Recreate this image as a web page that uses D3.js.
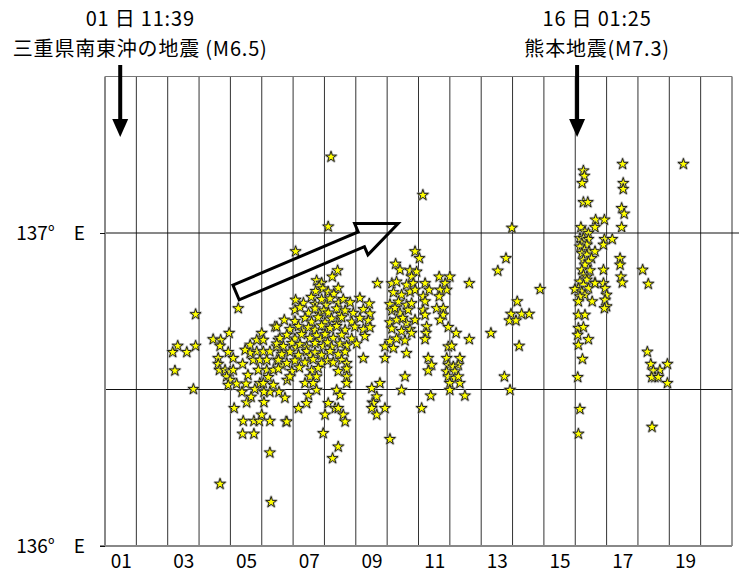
<!DOCTYPE html>
<html>
<head>
<meta charset="utf-8">
<script src="https://cdn.jsdelivr.net/npm/d3@7"></script>
<style>
  body { margin: 0; background: #fff; }
  svg { display: block; }
  text { font-family: "Noto Sans CJK JP", "Noto Sans", sans-serif; fill: #000; }
</style>
</head>
<body>
<svg id="chart" width="739" height="574"></svg>
<script>
// Epicentre records: [day of month (fractional), longitude °E]
const swarmEarly = [
  [3.89,136.740],[3.32,136.639],[3.16,136.619],[3.61,136.619],[3.89,136.639],[3.23,136.560],[3.82,136.501],
  [5.25,136.759],[4.96,136.680],[4.45,136.660],[4.69,136.658],[4.67,136.639],[4.93,136.619],[4.61,136.600],
  [4.61,136.581],[4.65,136.562],[5.09,136.600],[5.39,136.581],[4.83,136.562],[4.99,136.557],[5.09,136.562],
  [4.88,136.541],[4.99,136.530],[4.93,136.514],[5.20,136.518],[5.50,136.518],[5.78,136.501],[5.94,136.520],
  [5.12,136.440],[5.52,136.458],[6.07,136.459],[5.41,136.399],[5.75,136.399],[5.92,136.399],[6.26,136.399],
  [6.00,136.419],[5.39,136.358],[5.75,136.358],[6.26,136.298],[4.67,136.198],[6.30,136.140],[6.77,136.397],
  [6.00,136.680],[6.42,136.701],[5.63,136.642],[5.84,136.658],[6.05,136.658],[5.84,136.621],[6.05,136.621],
  [6.26,136.621],[6.48,136.637],[5.73,136.594],[5.94,136.594],[6.16,136.594],[6.48,136.594],[5.89,136.562],
  [6.16,136.562],[6.37,136.562],[6.21,136.539],[6.37,136.514],[6.05,136.520],[5.63,136.616],[6.53,136.658],
  [5.47,136.626],[5.56,136.546],[6.65,136.620],[6.65,136.578],[6.81,136.530],[6.55,136.492],[6.74,136.473],
  [5.37,136.492],[5.66,136.476],[6.26,136.492],[6.07,136.492]
];
const swarmMid = [
  [7.08,136.941],[8.42,136.880],[8.25,136.860],[9.69,136.839],[6.72,136.722],[8.12,137.020],[8.21,137.243],
  [7.75,136.848],[7.91,136.840],[7.83,136.830],
  [7.72,136.814],[7.95,136.822],[8.12,136.812],[8.44,136.824],[8.30,136.805],
  [7.08,136.786],[7.33,136.776],[7.58,136.795],[7.70,136.772],[7.91,136.788],[8.05,136.770],[8.18,136.790],
  [8.44,136.776],[8.60,136.788],[8.82,136.778],[9.13,136.792],[9.43,136.774],
  [7.06,136.754],[7.22,136.762],[7.49,136.744],[7.70,136.758],[7.85,136.740],[7.98,136.752],[8.12,136.745],
  [8.39,136.758],[8.52,136.740],[8.66,136.752],[8.92,136.744],[9.24,136.756],[9.45,136.742],
  [7.06,136.718],[7.38,136.728],[7.59,136.716],[7.80,136.730],[8.02,136.714],[8.23,136.726],[8.40,136.712],
  [8.55,136.730],[8.87,136.716],[9.13,136.728],[9.40,136.720],
  [6.48,136.700],[6.90,136.692],[7.17,136.702],[7.30,136.688],[7.49,136.698],[7.70,136.690],[7.91,136.704],
  [8.05,136.686],[8.18,136.696],[8.39,136.702],[8.66,136.690],[8.97,136.700],[9.24,136.692],[9.45,136.698],
  [6.58,136.664],[6.80,136.674],[7.06,136.662],[7.27,136.676],[7.54,136.664],[7.75,136.672],[7.88,136.660],
  [8.02,136.676],[8.28,136.664],[8.55,136.674],[8.87,136.662],[9.29,136.670],
  [6.48,136.646],[6.69,136.638],[6.96,136.648],[7.10,136.634],[7.22,136.644],[7.43,136.636],[7.70,136.648],
  [7.96,136.638],[8.10,136.650],[8.23,136.636],[8.50,136.646],[8.71,136.640],[9.03,136.646],
  [6.64,136.612],[6.90,136.620],[7.17,136.610],[7.43,136.622],[7.56,136.608],[7.70,136.618],[7.91,136.610],
  [8.18,136.622],[8.44,136.612],[8.66,136.620],
  [6.53,136.594],[6.80,136.584],[7.06,136.592],[7.38,136.586],[7.64,136.596],[7.91,136.584],[8.10,136.592],
  [8.28,136.586],[8.55,136.594],[8.71,136.584],[9.24,136.600],[9.93,136.600],
  [6.53,136.566],[6.96,136.558],[7.20,136.570],[7.59,136.560],[7.80,136.568],[8.44,136.558],[8.71,136.566],
  [6.90,136.541],[7.54,136.541],[7.75,136.541],[8.71,136.541],
  [7.38,136.520],[7.64,136.520],[8.71,136.520],
  [7.75,136.498],[8.39,136.498],[7.49,136.482],[8.50,136.482],[7.43,136.456],[8.12,136.456],
  [7.17,136.440],[8.34,136.440],[8.44,136.440],[8.02,136.419],[8.60,136.419],[6.80,136.397],[8.66,136.397],
  [7.96,136.360],[8.44,136.317],[8.26,136.280],[9.53,136.458],[10.09,136.341],
  [10.27,136.901],[10.41,136.882],[10.73,136.880],[10.15,136.839],[10.30,136.844],[10.62,136.834],
  [10.20,136.810],[10.46,136.802],[10.73,136.812],[10.09,136.772],[10.36,136.780],[10.62,136.770],
  [10.15,136.752],[10.41,136.744],[10.67,136.754],[10.09,136.714],[10.30,136.722],[10.62,136.712],
  [10.15,136.694],[10.46,136.686],[10.73,136.692],[10.09,136.654],[10.30,136.662],[10.57,136.656],
  [9.93,136.637],[10.20,136.632],[10.62,136.616],[10.25,136.760],[10.50,136.728],
  [9.51,136.504],[9.77,136.520],[9.67,136.477],[9.56,136.456],[9.51,136.440],[9.67,136.419],[9.93,136.440],
  [10.46,136.498],[10.57,136.541]
];
const swarmLate = [
  [10.89,136.941],[11.03,136.919],[10.94,136.876],[10.78,136.860],[10.83,136.839],[11.21,136.839],[10.89,136.818],
  [11.34,136.818],[11.66,136.860],[12.00,136.860],[11.85,136.839],[11.90,136.818],[11.69,136.818],[11.15,136.797],
  [11.21,136.781],[10.78,136.775],[11.66,136.797],[11.58,136.759],[11.79,136.759],[11.15,136.754],[11.79,136.738],
  [11.21,136.738],[10.89,136.722],[11.69,136.722],[10.78,136.680],[11.26,136.701],[11.24,136.680],[11.21,136.660],
  [11.95,136.699],[12.20,136.680],[12.62,136.839],[12.62,136.660],[11.95,136.637],[12.06,136.639],[11.31,136.600],
  [11.42,136.578],[11.31,136.560],[11.90,136.600],[12.32,136.600],[12.27,136.578],[11.95,136.578],[12.11,136.573],
  [11.90,136.557],[12.16,136.557],[11.95,136.541],[12.16,136.536],[12.32,136.520],[12.00,136.520],[12.00,136.498],
  [12.27,136.541],[11.39,136.480],[12.48,136.480],[11.10,136.440],[11.14,137.121],
  [13.79,136.919],[13.53,136.879],[14.88,136.820],[14.15,136.781],[13.95,136.741],[14.29,136.741],[14.53,136.741],
  [13.90,136.720],[14.11,136.720],[13.31,136.680],[14.21,136.639],[13.74,136.541],[13.92,136.498],[13.98,137.016]
];
const afterKumamoto = [
  [16.26,137.199],[16.29,137.182],[16.22,137.159],[16.26,137.098],[16.40,137.098],[17.51,137.220],[17.53,137.159],
  [17.53,137.140],[17.48,137.079],[17.56,137.061],[17.48,137.018],[16.65,137.042],[16.93,137.042],[16.63,137.018],
  [16.18,137.018],[19.45,137.220],
  [16.31,137.004],[16.42,136.999],[16.15,136.983],[16.26,136.983],[16.42,136.980],[16.21,136.967],[16.37,136.962],
  [16.15,136.956],[16.29,136.946],[16.44,136.941],[16.63,136.941],[16.21,136.935],[16.37,136.930],[16.52,136.919],
  [16.26,136.914],[16.42,136.908],[16.31,136.898],[16.47,136.880],[16.21,136.882],[16.26,136.866],[16.37,136.860],
  [16.15,136.844],[16.37,136.850],[16.63,136.841],[16.26,136.834],[16.42,136.823],[16.10,136.823],[15.99,136.820],
  [16.21,136.812],[16.31,136.802],[16.15,136.797],[16.54,136.781],[16.10,136.781],
  [16.93,136.980],[16.90,136.962],[17.18,136.980],[16.90,136.882],[17.43,136.919],[17.43,136.898],[17.46,136.860],
  [17.50,136.841],[16.90,136.839],[16.95,136.823],[17.00,136.802],[16.95,136.786],[17.00,136.765],[16.93,136.759],
  [18.15,136.882],[18.33,136.837],[16.63,136.839],[16.10,136.738],[16.31,136.738],[16.10,136.696],[16.26,136.699],
  [16.08,136.674],[16.42,136.660],[16.10,136.642],[16.23,136.597],[16.08,136.539],[16.15,136.437],[16.10,136.358],
  [18.30,136.620],[18.41,136.581],[18.70,136.562],[18.94,136.581],[18.49,136.560],[18.54,136.539],[18.44,136.539],
  [18.65,136.539],[18.94,136.520],[18.45,136.380]
];

const dayLabels = ["01","03","05","07","09","11","13","15","17","19"];
const lonTicks = [136, 137];
const lonGrid = [136.5, 137];

// Main shocks marked above the plot
const mainShocks = [
  { day: 1,  hour: 11, minute: 39, line1: "01 日 11:39", line2: "三重県南東沖の地震 (M6.5)" },
  { day: 16, hour: 1,  minute: 25, line1: "16 日 01:25", line2: "熊本地震(M7.3)" }
];
// Eastward migration of the swarm: [start, end] as [day, lon]
const migrationArrow = [[5.18, 136.81], [10.35, 137.03]];

const svg = d3.select("#chart");
const x = d3.scaleLinear().domain([1, 21]).range([105, 732]);
const y = d3.scaleLinear().domain([136, 137.5]).range([546, 76.5]);
const FONT = "\"Noto Sans CJK JP\", sans-serif";

const grid = svg.append("g");
// vertical day boundaries
grid.selectAll("line.day").data(d3.range(2, 22)).join("line")
  .attr("x1", d => x(d)).attr("x2", d => x(d))
  .attr("y1", y(137.5)).attr("y2", y(136))
  .attr("stroke", "#333").attr("stroke-width", 1);
// top border
grid.append("line")
  .attr("x1", x(1)).attr("x2", x(21)).attr("y1", y(137.5)).attr("y2", y(137.5))
  .attr("stroke", "#777").attr("stroke-width", 1);
// horizontal longitude lines
grid.selectAll("line.lon").data(lonGrid).join("line")
  .attr("x1", x(1)).attr("x2", d => d === 137 ? 739 : x(21))
  .attr("y1", d => y(d)).attr("y2", d => y(d))
  .attr("stroke", "#111").attr("stroke-width", 1);
// left and bottom axis lines
grid.append("line")
  .attr("x1", x(1)).attr("x2", x(1)).attr("y1", y(137.5)).attr("y2", y(136))
  .attr("stroke", "#888").attr("stroke-width", 2);
grid.append("line")
  .attr("x1", 100).attr("x2", x(21)).attr("y1", y(136)).attr("y2", y(136))
  .attr("stroke", "#888").attr("stroke-width", 2);

// axes (labels only)
const xAxis = d3.axisBottom(x)
  .tickValues(dayLabels.map(s => +s + 0.5))
  .tickFormat((d, i) => dayLabels[i])
  .tickSize(0).tickPadding(9);
svg.append("g").attr("transform", `translate(0,${y(136)})`).call(xAxis)
  .call(g => g.select(".domain").remove())
  .selectAll("text").attr("font-size", 19).attr("font-family", FONT).attr("fill", "#000");

const yAxis = d3.axisLeft(y)
  .tickValues(lonTicks)
  .tickFormat(d => `${d}°　E`)
  .tickSize(5).tickPadding(15);
svg.append("g").attr("transform", `translate(${x(1)},0)`).call(yAxis)
  .call(g => g.select(".domain").remove())
  .call(g => g.selectAll(".tick line").attr("stroke", "#111"))
  .selectAll("text").attr("font-size", 19).attr("font-family", FONT).attr("fill", "#000");

// epicentres: soft grey rim under each yellow star
const star = d3.symbol(d3.symbolStar, 36);
const allQuakes = [].concat(swarmEarly, swarmMid, swarmLate, afterKumamoto);
const quakes = svg.append("g").selectAll("g").data(allQuakes).join("g")
  .attr("transform", d => `translate(${x(d[0])},${y(d[1])})`);
quakes.append("path").attr("d", star)
  .attr("fill", "none").attr("stroke", "#999").attr("stroke-opacity", 0.55)
  .attr("stroke-width", 2.6).attr("stroke-linejoin", "round");
quakes.append("path").attr("d", star)
  .attr("fill", "#ffff00").attr("stroke", "#111").attr("stroke-width", 0.9);

// migration arrow (hollow)
{
  const [p0, p1] = migrationArrow;
  const x0 = x(p0[0]), y0 = y(p0[1]), x1 = x(p1[0]), y1 = y(p1[1]);
  const len = Math.hypot(x1 - x0, y1 - y0);
  const ang = Math.atan2(y1 - y0, x1 - x0) * 180 / Math.PI;
  const sw = 8, hw = 17, hl = 40;
  const pts = [[0, -sw], [len - hl, -sw], [len - hl, -hw], [len, 0], [len - hl, hw], [len - hl, sw], [0, sw]];
  svg.append("path")
    .attr("d", d3.line()(pts) + "Z")
    .attr("transform", `translate(${x0},${y0}) rotate(${ang})`)
    .attr("fill", "none").attr("stroke", "#000").attr("stroke-width", 3)
    .attr("stroke-linejoin", "miter");
}

// main shock markers
const marks = svg.append("g").selectAll("g").data(mainShocks).join("g")
  .attr("transform", d => `translate(${x(d.day + (d.hour * 60 + d.minute) / 1440)},0)`);
marks.append("line").attr("x1", 0).attr("x2", 0).attr("y1", 65).attr("y2", 121)
  .attr("stroke", "#000").attr("stroke-width", 4);
marks.append("path").attr("d", "M-8,119L8,119L0,137Z").attr("fill", "#000");
marks.append("text").attr("x", 20).attr("y", 26).attr("text-anchor", "middle")
  .attr("font-size", 20).attr("letter-spacing", 0.8).text(d => d.line1);
marks.append("text").attr("x", 20).attr("y", 56).attr("text-anchor", "middle")
  .attr("font-size", 20).attr("letter-spacing", 0.8).text(d => d.line2);
</script>
</body>
</html>
